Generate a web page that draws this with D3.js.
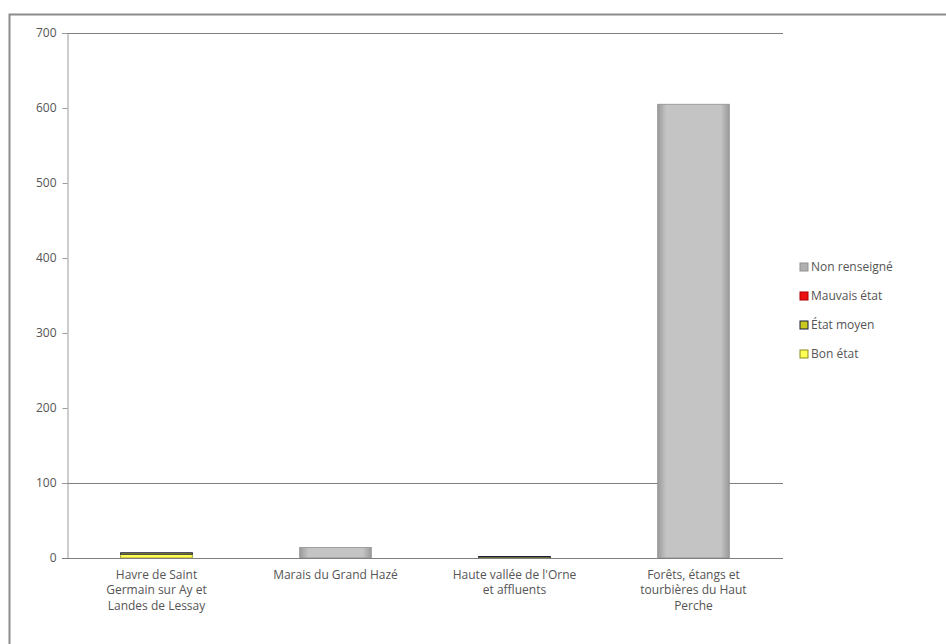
<!DOCTYPE html>
<html><head><meta charset="utf-8">
<script src="https://cdn.jsdelivr.net/npm/d3@7"></script>
<style>body{margin:0;background:#fff;}svg{display:block;font-family:"Open Sans","Liberation Sans",sans-serif;}</style>
</head><body>
<svg id="c" width="946" height="644"></svg>
<script>
const categories = ["Havre de Saint Germain sur Ay et Landes de Lessay","Marais du Grand Hazé","Haute vallée de l'Orne et affluents","Forêts, étangs et tourbières du Haut Perche"];
const categoryLines = [["Havre de Saint","Germain sur Ay et","Landes de Lessay"],["Marais du Grand Hazé"],["Haute vallée de l'Orne","et affluents"],["Forêts, étangs et","tourbières du Haut","Perche"]];
const seriesNames = ["Bon état","État moyen","Mauvais état","Non renseigné"];
const bonEtat = [6,0,0,0];
const etatMoyen = [1,0,2,0];
const mauvaisEtat = [0,0,0,0];
const nonRenseigne = [0,14,0,605];
const yTicks = [0,100,200,300,400,500,600,700];
const gridValues = [100,700];
const legendOrder = ["Non renseigné","Mauvais état","État moyen","Bon état"];
const colors = {"Bon état":"#ffff55","État moyen":"#c8c820","Mauvais état":"#ee1111","Non renseigné":"#b4b4b4"};
const strokes = {"Bon état":"#8a8a20","État moyen":"#1a1a40","Mauvais état":"#aa0000","Non renseigné":"#909090"};

(function(){
const svg = d3.select("#c");
const defs = svg.append("defs");
const g1 = defs.append("linearGradient").attr("id","grayG").attr("x1","0").attr("x2","1").attr("y1","0").attr("y2","0");
g1.append("stop").attr("offset","0").attr("stop-color","#9a9a9a");
g1.append("stop").attr("offset","0.12").attr("stop-color","#c4c4c4");
g1.append("stop").attr("offset","0.88").attr("stop-color","#c4c4c4");
g1.append("stop").attr("offset","1").attr("stop-color","#9a9a9a");

// outer frame
svg.append("rect").attr("x",9.5).attr("y",14.5).attr("width",960).attr("height",700).attr("fill","none").attr("stroke","#8c8c8c").attr("stroke-width",2);

const pLeft=67, pRight=783, pTop=33, pBottom=558;
const x = d3.scaleBand().domain(categories).range([pLeft,pRight]).paddingInner(0.6).paddingOuter(0.3);
const y = d3.scaleLinear().domain([0,700]).range([pBottom,pTop]);

// gridlines
svg.append("g").selectAll("line").data(gridValues).join("line")
  .attr("x1",pLeft-5).attr("x2",pRight).attr("y1",d=>Math.round(y(d))+0.5).attr("y2",d=>Math.round(y(d))+0.5)
  .attr("stroke","#7f7f7f").attr("stroke-width",1.2);

// y axis
const yAxis = d3.axisLeft(y).tickValues(yTicks).tickSize(5).tickPadding(6);
const ya = svg.append("g").attr("transform",`translate(${pLeft+0.5},0)`).call(yAxis);
ya.select(".domain").attr("stroke","#9a9a9a");
ya.selectAll(".tick line").attr("stroke","#9a9a9a");
ya.selectAll("text").attr("font-size",12).attr("fill","#555").attr("font-family","Open Sans, Liberation Sans, sans-serif");

// stacked bars
const data = categories.map((c,i)=>({cat:c,"Bon état":bonEtat[i],"État moyen":etatMoyen[i],"Mauvais état":mauvaisEtat[i],"Non renseigné":nonRenseigne[i]}));
const stack = d3.stack().keys(seriesNames)(data);
svg.append("g").selectAll("g").data(stack).join("g")
  .selectAll("rect").data(s=>s.map(d=>({d,key:s.key})).filter(o=>o.d[1]-o.d[0]>0)).join("rect")
  .attr("x",o=>x(o.d.data.cat)).attr("width",x.bandwidth())
  .attr("y",o=>y(o.d[1])).attr("height",o=>Math.max(1.5,y(o.d[0])-y(o.d[1])))
  .attr("fill",o=>o.key==="Non renseigné"?"url(#grayG)":colors[o.key])
  .attr("stroke",o=>strokes[o.key]).attr("stroke-width",o=>o.key==="État moyen"?1:0.8);

// x axis
const xa = svg.append("g").attr("transform",`translate(0,${pBottom+0.5})`);
xa.append("line").attr("x1",pLeft-5).attr("x2",pRight).attr("stroke","#7f7f7f").attr("stroke-width",1.2);
categories.forEach((c,i)=>{
  const cx = x(c)+x.bandwidth()/2;
  const t = xa.append("text").attr("text-anchor","middle").attr("font-size",12).attr("fill","#555");
  categoryLines[i].forEach((ln,j)=>t.append("tspan").attr("x",cx).attr("y",20+j*15.5).text(ln));
});

// legend
const lg = svg.append("g").attr("transform","translate(800,267)");
legendOrder.forEach((k,i)=>{
  const row = lg.append("g").attr("transform",`translate(0,${i*29})`);
  row.append("rect").attr("x",0).attr("y",-4).attr("width",8).attr("height",8)
    .attr("fill",k==="Non renseigné"?"#b0b0b0":colors[k]).attr("stroke",strokes[k]).attr("stroke-width",1);
  row.append("text").attr("x",11).attr("y",4).attr("font-size",12).attr("fill","#555").text(k);
});
})();
</script>
</body></html>
